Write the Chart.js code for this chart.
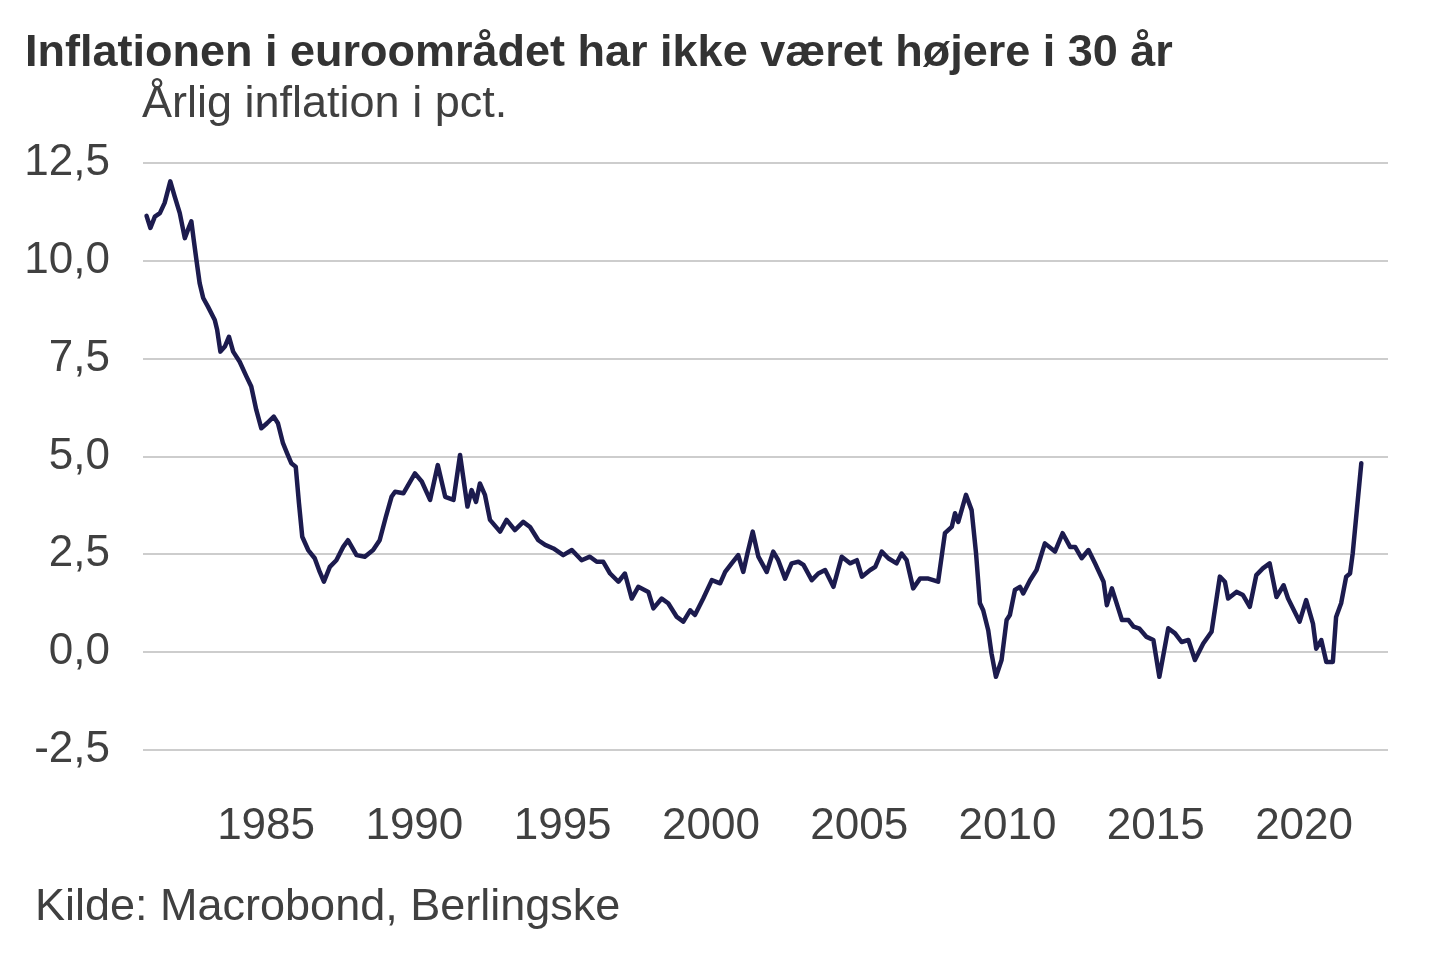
<!DOCTYPE html>
<html>
<head>
<meta charset="utf-8">
<script src="https://cdn.jsdelivr.net/npm/chart.js@4"></script>
<style>
  body { margin: 0; background: #fff; }
  #wrap { position: relative; width: 1440px; height: 960px; overflow: hidden; font-family: "Liberation Sans", Arial, sans-serif; }
  #chart { position: absolute; left: 0; top: 0; }
  .txt { position: absolute; white-space: nowrap; line-height: 1; }
  #title { left: 25px; top: 28px; font-size: 45px; font-weight: bold; color: #333; }
  #subtitle { left: 142px; top: 79px; font-size: 45px; color: #404040; }
  #source { left: 35px; top: 882px; font-size: 45px; color: #404040; }
</style>
</head>
<body>
<div id="wrap">
  <canvas id="chart" width="1440" height="960"></canvas>
  <div class="txt" id="title">Inflationen i euroområdet har ikke været højere i 30 år</div>
  <div class="txt" id="subtitle">Årlig inflation i pct.</div>
  <div class="txt" id="source">Kilde: Macrobond, Berlingske</div>
</div>
<script>
// tidspunkt (år, decimal) og årlig inflation i pct.
const years = [
  1980.97, 1981.10, 1981.25, 1981.42, 1981.58, 1981.77, 1981.92, 1982.09, 1982.26, 1982.41,
  1982.48, 1982.56, 1982.65, 1982.76, 1982.88, 1983.04, 1983.27, 1983.35, 1983.46, 1983.61,
  1983.75, 1983.89, 1984.11, 1984.34, 1984.50, 1984.67, 1984.84, 1985.03, 1985.26, 1985.40,
  1985.57, 1985.71, 1985.85, 1986.00, 1986.11, 1986.22, 1986.42, 1986.64, 1986.81, 1986.95,
  1987.15, 1987.37, 1987.60, 1987.76, 1988.05, 1988.33, 1988.61, 1988.83, 1989.04, 1989.23,
  1989.35, 1989.63, 1990.02, 1990.25, 1990.53, 1990.79, 1991.04, 1991.32, 1991.54, 1991.79,
  1991.93, 1992.08, 1992.21, 1992.38, 1992.55, 1992.89, 1993.11, 1993.39, 1993.67, 1993.90,
  1994.18, 1994.41, 1994.69, 1995.02, 1995.31, 1995.64, 1995.92, 1996.15, 1996.37, 1996.60,
  1996.88, 1997.10, 1997.33, 1997.55, 1997.89, 1998.06, 1998.34, 1998.56, 1998.85, 1999.07,
  1999.30, 1999.46, 1999.74, 2000.03, 2000.31, 2000.48, 2000.70, 2000.92, 2001.09, 2001.23,
  2001.41, 2001.60, 2001.88, 2002.10, 2002.27, 2002.50, 2002.72, 2002.95, 2003.12, 2003.40,
  2003.62, 2003.85, 2004.13, 2004.41, 2004.69, 2004.92, 2005.09, 2005.37, 2005.54, 2005.76,
  2005.98, 2006.26, 2006.43, 2006.60, 2006.82, 2007.05, 2007.33, 2007.66, 2007.89, 2008.12,
  2008.23, 2008.34, 2008.60, 2008.79, 2008.94, 2009.07, 2009.18, 2009.35, 2009.46, 2009.61,
  2009.80, 2009.97, 2010.08, 2010.25, 2010.42, 2010.53, 2010.76, 2010.98, 2011.26, 2011.60,
  2011.86, 2012.11, 2012.28, 2012.50, 2012.73, 2012.95, 2013.24, 2013.35, 2013.52, 2013.86,
  2014.08, 2014.25, 2014.45, 2014.69, 2014.92, 2015.12, 2015.42, 2015.65, 2015.87, 2016.10,
  2016.32, 2016.60, 2016.88, 2017.16, 2017.33, 2017.44, 2017.72, 2017.94, 2018.17, 2018.39,
  2018.61, 2018.84, 2019.07, 2019.31, 2019.46, 2019.85, 2020.07, 2020.30, 2020.41, 2020.58,
  2020.75, 2020.97, 2021.08, 2021.25, 2021.42, 2021.55, 2021.64, 2021.93
];
const inflation = [
  11.15, 10.84, 11.13, 11.22, 11.48, 12.03, 11.64, 11.22, 10.58, 10.88,
  11.01, 10.54, 10.03, 9.43, 9.05, 8.83, 8.49, 8.24, 7.68, 7.81,
  8.06, 7.68, 7.42, 7.04, 6.79, 6.19, 5.72, 5.85, 6.02, 5.85,
  5.34, 5.08, 4.83, 4.74, 3.80, 2.95, 2.61, 2.40, 2.05, 1.80,
  2.18, 2.35, 2.69, 2.86, 2.48, 2.44, 2.61, 2.86, 3.46, 3.97,
  4.10, 4.06, 4.57, 4.36, 3.89, 4.78, 3.97, 3.89, 5.04, 3.72,
  4.14, 3.84, 4.31, 4.02, 3.38, 3.08, 3.38, 3.12, 3.33, 3.20,
  2.86, 2.74, 2.65, 2.48, 2.61, 2.35, 2.44, 2.31, 2.31, 2.01,
  1.80, 2.01, 1.37, 1.67, 1.54, 1.12, 1.37, 1.25, 0.90, 0.78,
  1.07, 0.95, 1.37, 1.84, 1.76, 2.05, 2.27, 2.48, 2.05, 2.52,
  3.08, 2.44, 2.05, 2.57, 2.35, 1.88, 2.27, 2.31, 2.23, 1.84,
  2.01, 2.10, 1.67, 2.44, 2.27, 2.35, 1.93, 2.10, 2.18, 2.57,
  2.40, 2.27, 2.52, 2.35, 1.63, 1.88, 1.88, 1.80, 3.04, 3.20,
  3.55, 3.33, 4.02, 3.63, 2.52, 1.25, 1.07, 0.56, -0.03, -0.63,
  -0.20, 0.82, 0.95, 1.59, 1.67, 1.50, 1.84, 2.10, 2.78, 2.57,
  3.04, 2.69, 2.69, 2.40, 2.61, 2.27, 1.80, 1.20, 1.63, 0.82,
  0.82, 0.65, 0.60, 0.39, 0.31, -0.63, 0.61, 0.48, 0.26, 0.31,
  -0.20, 0.22, 0.52, 1.93, 1.80, 1.37, 1.54, 1.46, 1.16, 1.97,
  2.14, 2.27, 1.41, 1.71, 1.37, 0.78, 1.33, 0.73, 0.09, 0.31,
  -0.25, -0.25, 0.90, 1.25, 1.93, 2.01, 2.52, 4.83
];
const yTicks = [-2.5, 0, 2.5, 5, 7.5, 10, 12.5];
const xTicks = [1985, 1990, 1995, 2000, 2005, 2010, 2015, 2020];

const points = years.map((x, i) => ({ x: x, y: inflation[i] }));
const tickFont = { family: "'Liberation Sans', Arial, sans-serif", size: 44 };

new Chart(document.getElementById('chart'), {
  type: 'line',
  data: {
    datasets: [{
      data: points,
      borderColor: '#1c1b4e',
      borderWidth: 4.5,
      borderJoinStyle: 'round',
      borderCapStyle: 'round',
      pointRadius: 0,
      tension: 0,
      fill: false
    }]
  },
  options: {
    responsive: false,
    animation: false,
    devicePixelRatio: 1,
    layout: { padding: { top: 163, right: 52, bottom: 90, left: 0 } },
    plugins: { legend: { display: false }, tooltip: { enabled: false } },
    scales: {
      x: {
        type: 'linear',
        min: 1980.85,
        max: 2022.83,
        afterFit: (scale) => { scale.height = 120; },
        afterBuildTicks: (scale) => { scale.ticks = xTicks.map(v => ({ value: v })); },
        grid: { display: false, drawTicks: false },
        border: { display: false },
        ticks: {
          font: tickFont,
          color: '#404040',
          padding: 50,
          maxRotation: 0,
          autoSkip: false,
          callback: (v) => String(v)
        }
      },
      y: {
        min: -2.5,
        max: 12.5,
        afterFit: (scale) => { scale.width = 143; },
        afterBuildTicks: (scale) => { scale.ticks = yTicks.map(v => ({ value: v })); },
        grid: { color: '#cdcdcd', lineWidth: 2, drawTicks: false },
        border: { display: false },
        ticks: {
          font: tickFont,
          color: '#404040',
          padding: 33,
          callback: (v) => v.toFixed(1).replace('.', ',')
        }
      }
    }
  }
});
</script>
</body>
</html>
